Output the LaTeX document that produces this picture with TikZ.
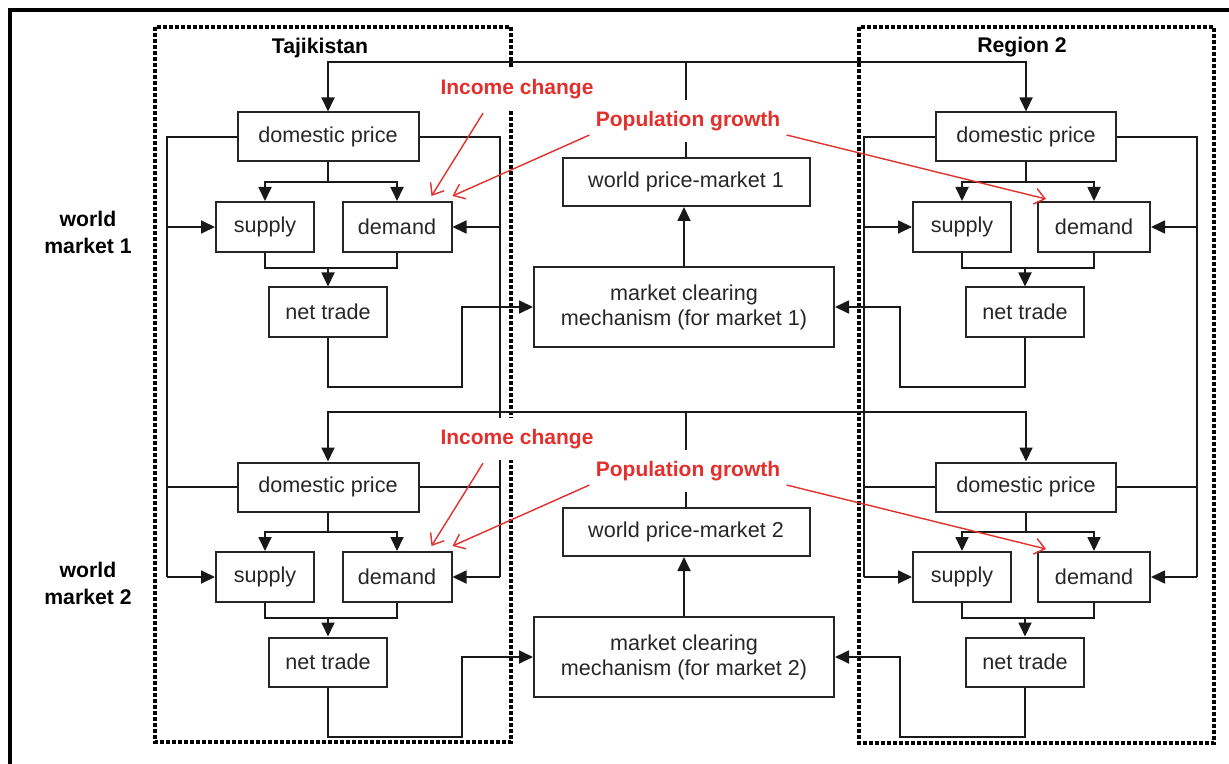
\documentclass[tikz,border=0pt]{standalone}
\usepackage{fontspec}
\setmainfont{Liberation Sans}
\usetikzlibrary{arrows.meta}
\definecolor{labred}{RGB}{226,48,45}
\tikzset{
  box/.style={draw=black!85, line width=1pt, text=black!85, inner sep=0pt, align=center,
    font=\fontsize{10.8}{12.5}\selectfont},
  wire/.style={draw=black!90, line width=0.9pt},
  tip/.style={wire, -{Triangle[length=7pt,width=6.5pt]}},
  region/.style={line width=1.9pt, dash pattern=on 1.8pt off 1.2pt},
  redlab/.style={text=labred, fill=white, inner xsep=1pt, inner ysep=5.5pt,
    font=\bfseries\fontsize{10.5}{12}\selectfont},
  redtip/.style={draw=labred, line width=0.7pt, -{Straight Barb[length=5pt,width=8pt]}},
  sidelab/.style={align=center, font=\bfseries\fontsize{10.6}{13.5}\selectfont},
}
\begin{document}
\begin{tikzpicture}[x=0.5pt, y=-0.5pt]
\useasboundingbox (0,0) rectangle (1229,764);

% ---- frame and the two regions ----
\draw[line width=2pt] (10,764) -- (10,10) -- (1229,10);
\draw[region] (155,27) rectangle (511,742);
\draw[region] (859,27) rectangle (1214,743);
\node[sidelab] (taj) at (320,48) {Tajikistan};
\node[sidelab] (reg) at (1022,47) {Region 2};
\node[sidelab] (wm1) at (88,232) {world\\market 1};
\node[sidelab] (wm2) at (88,583) {world\\market 2};

% ---- one block per world market ----
\foreach \m/\sh in {1/0pt, 2/-175pt} {
  \begin{scope}[yshift=\sh]
    % Tajikistan
    \node[box, minimum width=90.5pt, minimum height=24.5pt] (dpT\m) at (328,137) {domestic price};
    \node[box, minimum width=49pt, minimum height=25pt] (supT\m) at (265,227) {supply};
    \node[box, minimum width=54.5pt, minimum height=25pt] (demT\m) at (397,227) {demand};
    \node[box, minimum width=59pt, minimum height=24.5pt] (ntT\m) at (328,312) {net trade};
    % world market
    \node[box, minimum width=123.5pt, minimum height=24pt] (wp\m) at (686,182) {world price-market \m};
    \node[box, minimum width=150pt, minimum height=40pt] (mc\m) at (684,307)
      {market clearing\\mechanism (for market \m)};
    % Region 2
    \node[box, minimum width=90pt, minimum height=24.5pt] (dpR\m) at (1026,137) {domestic price};
    \node[box, minimum width=49pt, minimum height=25pt] (supR\m) at (962,227) {supply};
    \node[box, minimum width=56pt, minimum height=25pt] (demR\m) at (1094,227) {demand};
    \node[box, minimum width=59pt, minimum height=24.5pt] (ntR\m) at (1025,312) {net trade};

    \coordinate (hub\m) at (686,62);
    \coordinate (brT\m) at (328,182);
    \coordinate (jnT\m) at (328,268);
    \coordinate (bendT\m) at (462,387);
    \coordinate (brR\m) at (1026,182);
    \coordinate (jnR\m) at (1025,268);
    \coordinate (bendR\m) at (900,387);
  \end{scope}

  % world price back to both domestic prices
  \draw[wire] (wp\m.north) -- (hub\m);
  \draw[tip] (hub\m) -| (dpT\m.north);
  \draw[tip] (hub\m) -| (dpR\m.north);
  % price to supply and demand
  \draw[wire] (dpT\m.south) -- (brT\m);
  \draw[tip] (brT\m) -| (supT\m.north);
  \draw[tip] (brT\m) -| (demT\m.north);
  \draw[wire] (dpR\m.south) -- (brR\m);
  \draw[tip] (brR\m) -| (supR\m.north);
  \draw[tip] (brR\m) -| (demR\m.north);
  % supply and demand to net trade
  \draw[wire] (supT\m.south) |- (jnT\m) -| (demT\m.south);
  \draw[tip] (jnT\m) -- (ntT\m.north);
  \draw[wire] (supR\m.south) |- (jnR\m) -| (demR\m.south);
  \draw[tip] (jnR\m) -- (ntR\m.north);
  % net trade to market clearing
  \draw[tip] (ntT\m.south) |- (bendT\m) |- (mc\m.west);
  \draw[tip] (ntR\m.south) |- (bendR\m) |- (mc\m.east);
  \draw[tip] (mc\m.north) -- (mc\m.north |- wp\m.south);
}

% ---- prices of both markets feed supply and demand of both ----
\coordinate (lT) at (167,0);
\coordinate (rT) at (500,0);
\coordinate (lR) at (864,0);
\coordinate (rR) at (1197,0);
\draw[wire] (dpT1.west) -- (dpT1.west -| lT) -- (supT2.west -| lT);
\draw[wire] (dpT2.west) -- (dpT2.west -| lT);
\draw[wire] (dpT1.east) -- (dpT1.east -| rT) -- (demT2.east -| rT);
\draw[wire] (dpT2.east) -- (dpT2.east -| rT);
\draw[wire] (dpR1.west) -- (dpR1.west -| lR) -- (supR2.west -| lR);
\draw[wire] (dpR2.west) -- (dpR2.west -| lR);
\draw[wire] (dpR1.east) -- (dpR1.east -| rR) -- (demR2.east -| rR);
\draw[wire] (dpR2.east) -- (dpR2.east -| rR);
\foreach \m in {1,2} {
  \draw[tip] (supT\m.west -| lT) -- (supT\m.west);
  \draw[tip] (demT\m.east -| rT) -- (demT\m.east);
  \draw[tip] (supR\m.west -| lR) -- (supR\m.west);
  \draw[tip] (demR\m.east -| rR) -- (demR\m.east);
}

% ---- drivers ----
\foreach \m/\sh in {1/0pt, 2/-175pt} {
  \begin{scope}[yshift=\sh]
    \node[redlab] (inc\m) at (517,89) {Income change};
    \node[redlab] (pop\m) at (688,121) {Population growth};
  \end{scope}
  \draw[redtip] ([xshift=-17pt,yshift=-1.5pt]inc\m.south) -- ([xshift=-10.5pt,yshift=2.5pt]demT\m.north east);
  \draw[redtip] ([xshift=-2pt,yshift=-7pt]pop\m.west) -- ([yshift=2.5pt]demT\m.north east);
  \draw[redtip] ([xshift=2pt,yshift=-7pt]pop\m.east) -- ([xshift=4.5pt,yshift=1pt]demR\m.north west);
}
\end{tikzpicture}
\end{document}
